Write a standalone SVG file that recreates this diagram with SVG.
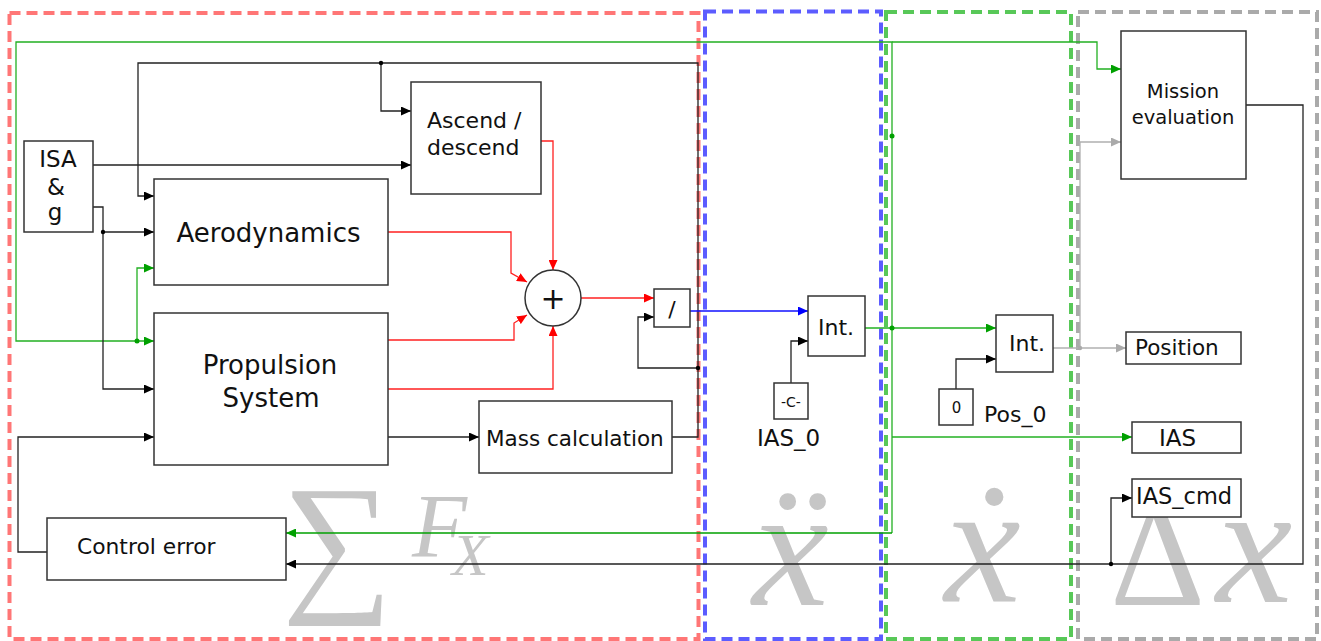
<svg xmlns="http://www.w3.org/2000/svg" width="1321" height="641" viewBox="0 0 1321 641">
<defs>
<style>
.frame{fill:none;stroke-width:4;stroke-dasharray:11 6}
.box{fill:#fff;stroke:#333;stroke-width:1.5}
.lbl{font-family:"DejaVu Sans","Verdana",sans-serif;fill:#111}
.wm{font-family:"Liberation Serif","DejaVu Serif",serif;fill:#c6c6c6}
.c{fill:none;stroke-width:1.3}
.k{stroke:#222}
.r{stroke:#ff2020}
.g{stroke:#22b022}
.b{stroke:#1010ff}
.gr{stroke:#b0b0b0}
</style>
<marker id="ak" markerUnits="userSpaceOnUse" markerWidth="10" markerHeight="9" refX="10" refY="4.5" orient="auto" viewBox="0 0 10 9"><path d="M0,0 L10,4.5 L0,9 z" fill="#000"/></marker>
<marker id="ar" markerUnits="userSpaceOnUse" markerWidth="10" markerHeight="9" refX="10" refY="4.5" orient="auto" viewBox="0 0 10 9"><path d="M0,0 L10,4.5 L0,9 z" fill="#ff0000"/></marker>
<marker id="ag" markerUnits="userSpaceOnUse" markerWidth="10" markerHeight="9" refX="10" refY="4.5" orient="auto" viewBox="0 0 10 9"><path d="M0,0 L10,4.5 L0,9 z" fill="#00a000"/></marker>
<marker id="ab" markerUnits="userSpaceOnUse" markerWidth="10" markerHeight="9" refX="10" refY="4.5" orient="auto" viewBox="0 0 10 9"><path d="M0,0 L10,4.5 L0,9 z" fill="#0000ff"/></marker>
<marker id="agr" markerUnits="userSpaceOnUse" markerWidth="10" markerHeight="9" refX="10" refY="4.5" orient="auto" viewBox="0 0 10 9"><path d="M0,0 L10,4.5 L0,9 z" fill="#aaaaaa"/></marker>
</defs>
<rect width="1321" height="641" fill="#fff"/>

<g id="watermark">
<text class="wm" x="282" y="593" font-size="155">∑</text>
<text class="wm" x="412" y="557" font-size="90" font-style="italic">F</text>
<text class="wm" x="452" y="575" font-size="60" font-style="italic">X</text>
<text class="wm" x="752" y="605" font-size="172" font-style="italic">ẍ</text>
<text class="wm" x="944" y="602" font-size="172" font-style="italic">ẋ</text>
<text class="wm" x="1110" y="605" font-size="148">Δ</text>
<text class="wm" x="1216" y="602" font-size="172" font-style="italic">x</text>
</g>

<g id="frames">
<rect class="frame" x="9.5" y="13" width="689" height="626" stroke="#ff7676"/>
<rect class="frame" x="705" y="11.5" width="176" height="627.5" stroke="#5c5cff"/>
<rect class="frame" x="886" y="12" width="185" height="627" stroke="#58c858"/>
<rect class="frame" x="1078" y="12" width="239" height="627" stroke="#aaaaaa"/>
</g>

<g id="connectors">
<path class="c g" d="M892,533 V42 H16 V341 H154" marker-end="url(#ag)"/>
<path class="c g" d="M892,42 H1097 V69 H1121" marker-end="url(#ag)"/>
<path class="c g" d="M137,341 V268 H154" marker-end="url(#ag)"/>
<path class="c g" d="M865,328 H996" marker-end="url(#ag)"/>
<path class="c g" d="M892,437 H1132" marker-end="url(#ag)"/>
<path class="c" stroke="#00a000" stroke-width="2" d="M892,533 H286" marker-end="url(#ag)"/>
<circle cx="137" cy="341" r="2.5" fill="#00a000"/>
<circle cx="892" cy="136" r="2.5" fill="#00a000"/>
<circle cx="892" cy="328" r="2.5" fill="#00a000"/>

<path class="c k" d="M672,437 H698 V63 H138 V196 H154" marker-end="url(#ak)"/>
<path class="c k" d="M381,63 V111 H411" marker-end="url(#ak)"/>
<circle cx="381" cy="63" r="2.2" fill="#000"/>
<path class="c k" d="M698,368 H638 V317 H654" marker-end="url(#ak)"/>
<circle cx="698" cy="368" r="2.2" fill="#000"/>
<path class="c k" d="M93,165 H411" marker-end="url(#ak)"/>
<path class="c k" d="M93,207 H103 V389 H154" marker-end="url(#ak)"/>
<path class="c k" d="M103,232 H154" marker-end="url(#ak)"/>
<circle cx="103" cy="232" r="2.2" fill="#000"/>
<path class="c k" d="M388,437 H479" marker-end="url(#ak)"/>
<path class="c k" d="M47,552 H18 V437 H154" marker-end="url(#ak)"/>
<path class="c k" d="M1246,105 H1303 V564 H286" marker-end="url(#ak)"/>
<path class="c k" d="M1111,564 V498 H1132" marker-end="url(#ak)"/>
<circle cx="1111" cy="564" r="2.2" fill="#000"/>
<path class="c k" d="M791,383 V341 H808" marker-end="url(#ak)"/>
<path class="c k" d="M956,389 V359 H996" marker-end="url(#ak)"/>

<path class="c r" d="M541,141 H553 V270" marker-end="url(#ar)"/>
<path class="c r" d="M388,232 H511 V273 L527,282" marker-end="url(#ar)"/>
<path class="c r" d="M388,340 H514 V323 L527,315" marker-end="url(#ar)"/>
<path class="c r" d="M388,389 H553 V326" marker-end="url(#ar)"/>
<path class="c r" d="M581,298 H654" marker-end="url(#ar)"/>

<path class="c b" d="M690,311 H808" marker-end="url(#ab)"/>

<path class="c gr" d="M1053,348 H1126" marker-end="url(#agr)"/>
<path class="c gr" d="M1080,348 V142 H1121" marker-end="url(#agr)"/>
<circle cx="1080" cy="348" r="2.2" fill="#aaaaaa"/>
</g>

<g id="isa">
<rect class="box" x="24" y="141" width="69" height="91"/>
<text class="lbl" x="58" y="167" font-size="23" text-anchor="middle">ISA</text>
<text class="lbl" x="56" y="195" font-size="23" text-anchor="middle">&amp;</text>
<text class="lbl" x="55" y="220" font-size="23" text-anchor="middle">g</text>
</g>
<g id="aero">
<rect class="box" x="154" y="179" width="234" height="106"/>
<text class="lbl" x="268.5" y="242" font-size="26" text-anchor="middle">Aerodynamics</text>
</g>
<g id="prop">
<rect class="box" x="154" y="313" width="234" height="152"/>
<text class="lbl" x="270" y="374" font-size="26" text-anchor="middle">Propulsion</text>
<text class="lbl" x="271" y="407" font-size="26" text-anchor="middle">System</text>
</g>
<g id="ascend">
<rect class="box" x="411" y="82" width="130" height="112"/>
<text class="lbl" x="427" y="128" font-size="22">Ascend /</text>
<text class="lbl" x="427" y="155" font-size="22">descend</text>
</g>
<g id="sum">
<circle cx="553" cy="298" r="28" fill="#fff" stroke="#333" stroke-width="1.5"/>
<text class="lbl" x="553" y="309" font-size="30" text-anchor="middle">+</text>
</g>
<g id="divide">
<rect class="box" x="654" y="289" width="36" height="38"/>
<text class="lbl" x="672" y="317" font-size="22" text-anchor="middle">/</text>
</g>
<g id="mass">
<rect class="box" x="479" y="401" width="193" height="72"/>
<text class="lbl" x="486" y="446" font-size="21.5">Mass calculation</text>
</g>
<g id="control">
<rect class="box" x="47" y="518" width="239" height="62"/>
<text class="lbl" x="77" y="554" font-size="21.8">Control error</text>
</g>
<g id="int1">
<rect class="box" x="808" y="296" width="57" height="60"/>
<text class="lbl" x="818" y="335" font-size="22">Int.</text>
</g>
<g id="const-c">
<rect class="box" x="774" y="383" width="34" height="36"/>
<text class="lbl" x="791" y="407" font-size="14" text-anchor="middle">-C-</text>
<text class="lbl" x="757" y="446" font-size="23">IAS_0</text>
</g>
<g id="int2">
<rect class="box" x="996" y="315" width="57" height="57"/>
<text class="lbl" x="1009" y="351" font-size="22">Int.</text>
</g>
<g id="const-0">
<rect class="box" x="939" y="389" width="34" height="36"/>
<text class="lbl" x="956.5" y="413" font-size="15" text-anchor="middle">0</text>
<text class="lbl" x="984" y="422" font-size="22">Pos_0</text>
</g>
<g id="mission">
<rect class="box" x="1121" y="31" width="125" height="148"/>
<text class="lbl" x="1183" y="98" font-size="19.5" text-anchor="middle">Mission</text>
<text class="lbl" x="1183" y="124" font-size="19.5" text-anchor="middle">evaluation</text>
</g>
<g id="position">
<rect class="box" x="1126" y="332" width="115" height="32"/>
<text class="lbl" x="1135" y="355" font-size="21.5">Position</text>
</g>
<g id="ias">
<rect class="box" x="1132" y="422" width="109" height="31"/>
<text class="lbl" x="1159" y="446" font-size="23">IAS</text>
</g>
<g id="iascmd">
<rect class="box" x="1132" y="479" width="109" height="38"/>
<text class="lbl" x="1136" y="504" font-size="22.5">IAS_cmd</text>
</g>
</svg>
